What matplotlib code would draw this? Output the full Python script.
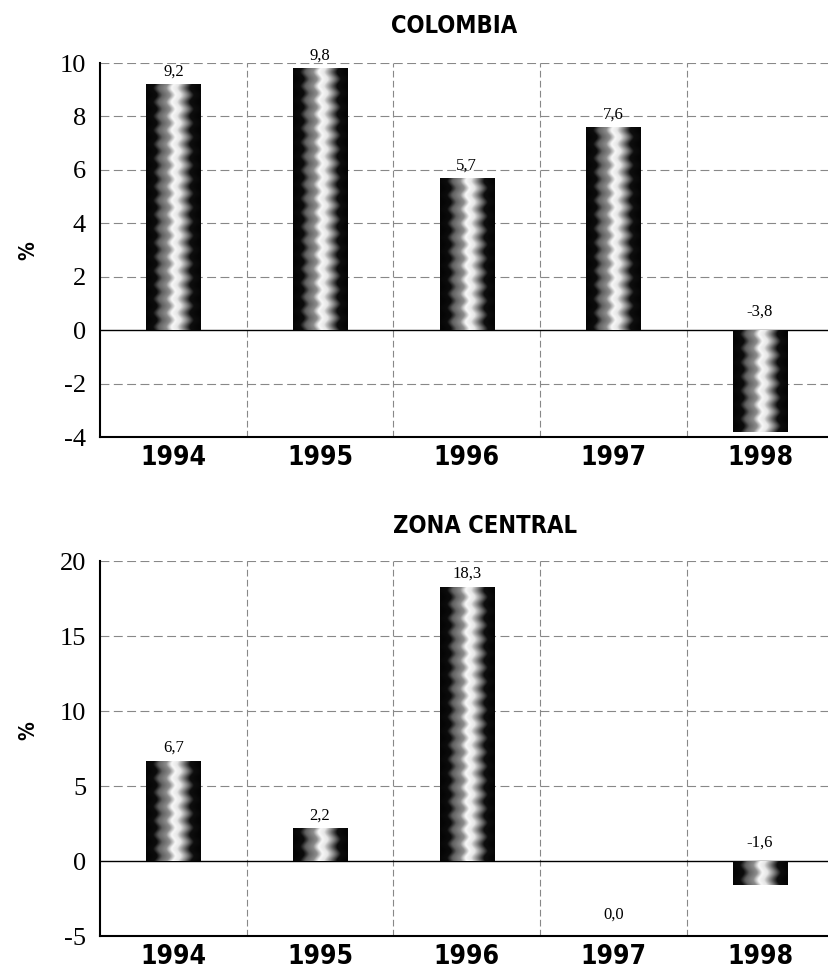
import matplotlib
matplotlib.use("Agg")
import matplotlib.pyplot as plt
import numpy as np

YEARS = ["1994", "1995", "1996", "1997", "1998"]
COLOMBIA = [9.2, 9.8, 5.7, 7.6, -3.8]
ZONA_CENTRAL = [6.7, 2.2, 18.3, 0.0, -1.6]

TITLES = ["COLOMBIA", "ZONA CENTRAL"]
Y_LIMITS = [(-4, 10), (-5, 20)]
Y_TICKS = [[-4, -2, 0, 2, 4, 6, 8, 10], [-5, 0, 5, 10, 15, 20]]

SERIF = ["Liberation Serif", "DejaVu Serif"]
BAR_WIDTH = 0.37
AX_HEIGHT_PX = 374


def fmt(v):
    return f"{v:.1f}".replace(".", ",")


def cylinder_texture(n_rows, n_cols=60):
    # dark edges, bright band slightly right of centre, wavy like the scan
    t = np.linspace(0, 1, n_cols)
    img = np.zeros((max(n_rows, 2), n_cols))
    for r in range(img.shape[0]):
        shift = 0.035 * np.sin(2 * np.pi * r / 14.0)
        img[r] = np.interp(t + shift,
                           [0, 0.16, 0.26, 0.40, 0.50, 0.60, 0.72, 0.84, 1.0],
                           [0.02, 0.05, 0.38, 0.55, 0.97, 0.9, 0.5, 0.06, 0.02])
    return img


def draw_panel(ax, values, ylim, yticks):
    x = np.arange(len(YEARS))
    bars = ax.bar(x, values, width=BAR_WIDTH, color="none", edgecolor="none", zorder=3)
    span = ylim[1] - ylim[0]
    for b, v in zip(bars, values):
        if v == 0:
            continue
        x0 = b.get_x()
        x1 = x0 + b.get_width()
        y0, y1 = min(0, v), max(0, v)
        rows = int(abs(v) / span * AX_HEIGHT_PX)
        im = ax.imshow(cylinder_texture(rows), extent=[x0, x1, y0, y1], aspect="auto",
                       cmap="gray", vmin=0, vmax=1, zorder=3, interpolation="bilinear")
        im.set_clip_path(b)

    for xi, v in zip(x, values):
        if v > 0:
            ypos = v + span * 0.012
        elif v < 0:
            ypos = span * 0.028
        else:
            ypos = ylim[0] + span * 0.035
        ax.text(xi, ypos, fmt(v), ha="center", va="bottom", fontsize=12,
                family=SERIF, zorder=4)

    ax.set_xlim(-0.5, 4.47)
    ax.set_ylim(*ylim)
    ax.set_yticks(yticks)
    ax.set_yticklabels([str(t) for t in yticks], family=SERIF, fontsize=19)
    ax.set_xticks(x)
    ax.set_xticklabels(YEARS, family="DejaVu Sans", fontstretch="condensed",
                       fontweight="bold", fontsize=19)
    ax.tick_params(length=0, axis="y", pad=10)
    ax.tick_params(length=0, axis="x", pad=6)

    for yt in yticks[1:]:
        if yt != 0:
            ax.axhline(yt, color="#888888", lw=0.8, ls=(0, (8, 4)), zorder=1)
    for xv in x[:-1] + 0.5:
        ax.axvline(xv, color="#888888", lw=0.8, ls=(0, (6, 3)), zorder=1)
    ax.axhline(0, color="black", lw=1.0, zorder=2)

    for s in ["top", "right"]:
        ax.spines[s].set_visible(False)
    ax.spines["left"].set_linewidth(1.5)
    ax.spines["bottom"].set_linewidth(1.5)


fig = plt.figure(figsize=(8.29, 9.74), dpi=100)
ax1 = fig.add_axes([0.1206, 0.5513, 0.8794, 0.384])
ax2 = fig.add_axes([0.1206, 0.039, 0.8794, 0.385])

draw_panel(ax1, COLOMBIA, Y_LIMITS[0], Y_TICKS[0])
draw_panel(ax2, ZONA_CENTRAL, Y_LIMITS[1], Y_TICKS[1])

title_kw = dict(ha="center", va="center", family="DejaVu Sans", fontstretch="condensed",
                fontweight="bold", fontsize=17)
fig.text(0.548, 0.973, TITLES[0], **title_kw)
fig.text(0.585, 0.46, TITLES[1], **title_kw)
fig.text(0.034, 0.743, "%", rotation=90, **{**title_kw, "fontsize": 15})
fig.text(0.034, 0.25, "%", rotation=90, **{**title_kw, "fontsize": 15})

fig.savefig("out.png", dpi=100)
